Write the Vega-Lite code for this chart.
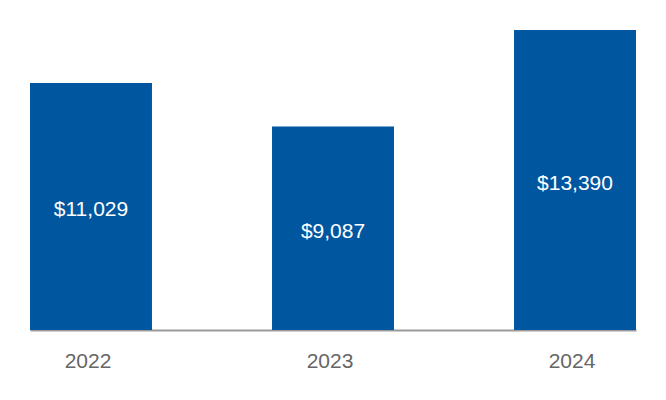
{
  "$schema": "https://vega.github.io/schema/vega-lite/v6.json",
  "width": 606,
  "height": 330,
  "autosize": {"type": "none"},
  "padding": {"left": 30, "top": 0, "right": 30, "bottom": 70},
  "background": "white",
  "config": {"view": {"stroke": null}, "font": "Liberation Sans"},
  "data": {"values": [
    {"year": "2022", "value": 11029, "label": "$11,029"},
    {"year": "2023", "value": 9087, "label": "$9,087"},
    {"year": "2024", "value": 13390, "label": "$13,390"}
  ]},
  "encoding": {
    "x": {
      "field": "year", "type": "nominal",
      "scale": {"paddingInner": 0.496, "paddingOuter": 0},
      "axis": {
        "title": null, "labelAngle": 0, "ticks": false,
        "domainColor": "#9a9a9a", "domainWidth": 2,
        "labelColor": "#666666", "labelFontSize": 21, "labelPadding": 20,
        "labelFont": "Liberation Sans", "labelOffset": -3
      }
    }
  },
  "layer": [
    {
      "mark": {"type": "bar", "color": "#0057A0"},
      "encoding": {
        "y": {"field": "value", "type": "quantitative", "scale": {"domain": [0, 14729]}, "axis": null}
      }
    },
    {
      "transform": [{"calculate": "datum.value / 2", "as": "mid"}],
      "mark": {"type": "text", "color": "white", "fontSize": 21, "baseline": "middle", "dy": 4, "font": "Liberation Sans"},
      "encoding": {
        "y": {"field": "mid", "type": "quantitative", "scale": {"domain": [0, 14729]}},
        "text": {"field": "label"}
      }
    }
  ]
}
